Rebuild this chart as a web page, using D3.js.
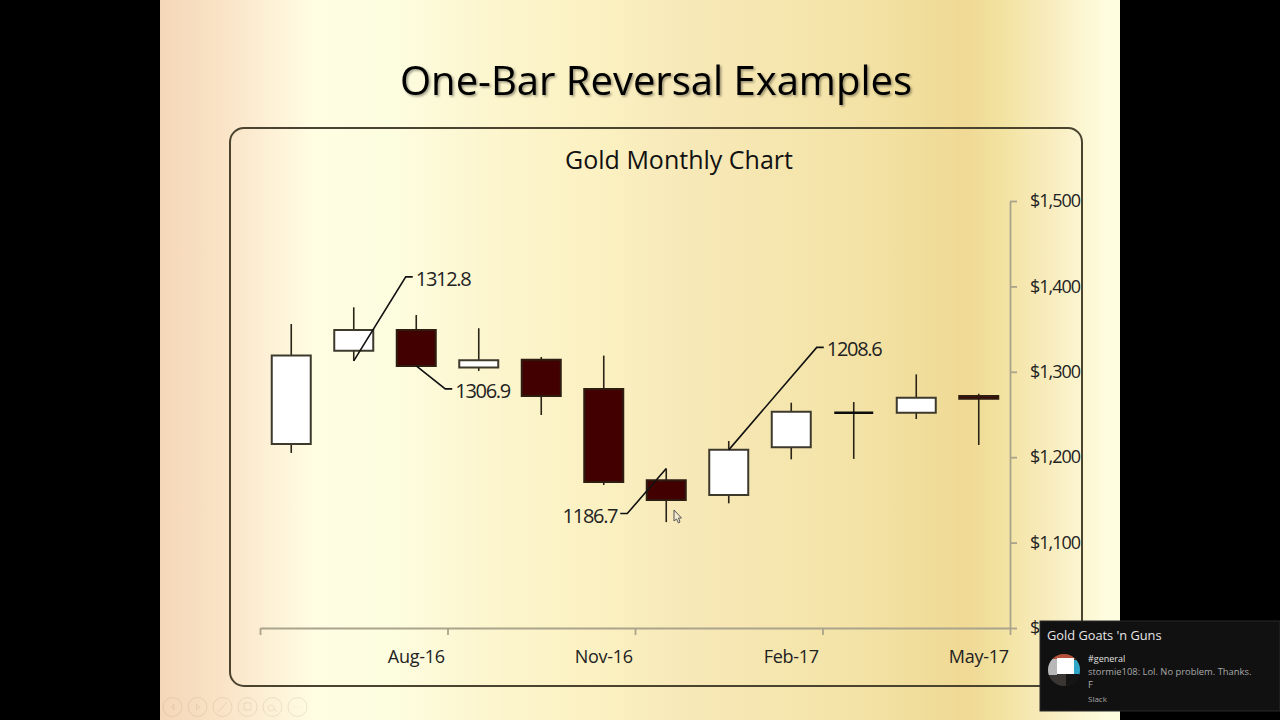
<!DOCTYPE html>
<html>
<head>
<meta charset="utf-8">
<script src="https://cdn.jsdelivr.net/npm/d3@7"></script>
<style>
html,body{margin:0;padding:0;background:#000;overflow:hidden}
svg{display:block}
text{font-family:"Open Sans","Noto Sans",sans-serif}
</style>
</head>
<body>
<svg id="slide" width="1280" height="720"></svg>
<script>
// Monthly gold candles, Jun-16 through May-17
const months = ["Jun-16","Jul-16","Aug-16","Sep-16","Oct-16","Nov-16","Dec-16","Jan-17","Feb-17","Mar-17","Apr-17","May-17"];
const opens  = [1215.5,1324.7,1349.0,1305.0,1314.0,1279.9,1173.0,1155.7,1211.6,1252.0,1252.0,1271.7];
const closes = [1319.0,1349.0,1306.9,1313.4,1271.7,1171.0,1149.9,1208.6,1253.3,1252.0,1269.7,1268.5];
const highs  = [1356.0,1375.5,1366.5,1351.0,1317.3,1319.0,1186.7,1219.0,1263.8,1264.6,1297.0,1274.3];
const lows   = [1205.0,1312.8,1306.9,1301.0,1249.4,1167.4,1124.0,1146.0,1197.5,1198.0,1244.7,1214.3];
const axisTicks = [1000,1100,1200,1300,1400,1500];
const labelledMonths = ["Aug-16","Nov-16","Feb-17","May-17"];
const callouts = [
  {month:"Jul-16", value:1312.8, dx:52, dy:-84, side:1},
  {month:"Aug-16", value:1306.9, dx:29, dy:23, side:1},
  {month:"Dec-16", value:1186.7, dx:-39, dy:45, side:-1},
  {month:"Jan-17", value:1208.6, dx:88, dy:-102.5, side:1}
];
const gradientStops = [[0,"#f5d7b8"],[0.04,"#f7dec0"],[0.08,"#fbe7cb"],[0.12,"#fdf2d8"],[0.16,"#fffde2"],[0.24,"#fdfde0"],[0.35,"#fcf5cd"],[0.47,"#fbf0c0"],[0.55,"#f7e8b8"],[0.66,"#f5e6ae"],[0.74,"#f3e2a4"],[0.84,"#efd994"],[0.875,"#f2e2a0"],[0.93,"#f9edc0"],[0.985,"#fefddf"],[1,"#fffde0"]];

const svg = d3.select("#slide");
const defs = svg.append("defs");

const grad = defs.append("linearGradient").attr("id","slideFill");
grad.selectAll("stop").data(gradientStops).join("stop")
  .attr("offset",d=>d[0]).attr("stop-color",d=>d[1]);

const shadow = defs.append("filter").attr("id","titleShadow")
  .attr("x","-5%").attr("y","-20%").attr("width","110%").attr("height","150%");
shadow.append("feDropShadow").attr("dx",1.5).attr("dy",1.5).attr("stdDeviation",1.2)
  .attr("flood-color","#000").attr("flood-opacity",0.4);

const avatarClip = defs.append("clipPath").attr("id","avatarClip");
avatarClip.append("circle").attr("cx",1064).attr("cy",670).attr("r",16);

// Slide background and frame
svg.append("rect").attr("x",160).attr("y",0).attr("width",960).attr("height",720).attr("fill","url(#slideFill)");
svg.append("rect").attr("x",230).attr("y",128).attr("width",852).attr("height",558).attr("rx",14)
  .attr("fill","none").attr("stroke","#4a4330").attr("stroke-width",2);

svg.append("text").attr("x",656).attr("y",95).attr("text-anchor","middle")
  .attr("font-size",40).attr("fill","#000").attr("filter","url(#titleShadow)")
  .text("One-Bar Reversal Examples");
svg.append("text").attr("x",679).attr("y",169).attr("text-anchor","middle")
  .attr("font-size",25).attr("fill","#111").text("Gold Monthly Chart");

// Scales
const x = d3.scaleBand().domain(months).range([260,1010]);
const edge = d3.scaleLinear().domain([0,12]).range([260,1010]);
const y = d3.scaleLinear().domain([1000,1500]).range([628,201]);
const cx = m => x(m)+x.bandwidth()/2;

// Axes
const axisStyle = (spacing) => g => {
  g.selectAll(".domain,.tick line").attr("stroke","#aaa48c").attr("stroke-width",1.8);
  g.selectAll("text").attr("fill","#222").attr("font-size",18)
    .attr("letter-spacing",spacing)
    .attr("font-family",'"Open Sans","Noto Sans",sans-serif');
};
svg.append("g").attr("transform","translate(0,628)")
  .call(d3.axisBottom(edge).tickValues([0,3,6,9,12]).tickFormat("").tickSize(7).tickSizeOuter(0))
  .call(axisStyle(0));
svg.append("g").attr("transform","translate(0,628)")
  .call(d3.axisBottom(x).tickValues(labelledMonths).tickSize(0).tickPadding(17))
  .call(axisStyle(-0.3)).call(g=>g.select(".domain").remove())
  .call(g=>g.selectAll("text").attr("dy","1.0em"));
svg.append("g").attr("transform","translate(1010,0)")
  .call(d3.axisRight(y).tickValues(axisTicks).tickSize(7).tickSizeOuter(0).tickPadding(13)
    .tickFormat(d=>"$"+d3.format(",")(d)))
  .call(axisStyle(-1));

// Candles: bodies are paths so a doji with open equal to close still strokes
const candles = months.map((m,i)=>({m,o:opens[i],c:closes[i],h:highs[i],l:lows[i]}));
const bodyW = 39;
const isDoji = d => Math.abs(d.o-d.c) < 1;
svg.append("g").selectAll("line").data(candles).join("line")
  .attr("x1",d=>cx(d.m)).attr("x2",d=>cx(d.m))
  .attr("y1",d=>y(d.h)).attr("y2",d=>y(d.l))
  .attr("stroke","#2a2416").attr("stroke-width",1.6);
svg.append("g").selectAll("path").data(candles).join("path")
  .attr("d",d=>{
    const l=cx(d.m)-bodyW/2, r=l+bodyW, t=y(Math.max(d.o,d.c)), b=y(Math.min(d.o,d.c));
    return d3.line()([[l,t],[r,t],[r,b],[l,b]])+"Z";
  })
  .attr("fill",d=>d.c>=d.o?"#ffffff":"#420000")
  .attr("stroke",d=>isDoji(d)?"#0c0c0c":(d.c<d.o?"#2e1c10":"#3d3a2c"))
  .attr("stroke-width",d=>isDoji(d)?2.4:2);

// Value callouts
const callG = svg.append("g");
callouts.forEach(c=>{
  const px=cx(c.month), py=y(c.value);
  callG.append("path")
    .attr("d",d3.line()([[px,py],[px+c.dx,py+c.dy],[px+c.dx+c.side*7,py+c.dy]]))
    .attr("fill","none").attr("stroke","#111").attr("stroke-width",1.6);
  callG.append("text")
    .attr("x",px+c.dx+c.side*10).attr("y",py+c.dy+9)
    .attr("text-anchor",c.side>0?"start":"end")
    .attr("letter-spacing",-1.3)
    .attr("font-size",20).attr("fill","#222").text(c.value.toFixed(1));
});

// Pointer
svg.append("path").attr("d",d3.line()([[674,510],[674,521],[676.5,519],[678.5,523],[680,522],[678.5,518],[681.5,518]])+"Z")
  .attr("fill","#f4ecd0").attr("stroke","#555").attr("stroke-width",1);

// Slide-show controls
const controlCount = d3.range(6);
const controls = svg.append("g").attr("stroke","#6b5a3c").attr("stroke-opacity",0.13).attr("fill","none");
controls.selectAll("circle").data(controlCount).join("circle")
  .attr("cx",i=>172.5+i*25).attr("cy",707).attr("r",9.5);
const glyphs = [
  "M174,704.5L171,707L174,709.5Z","M196.5,704.5L199.5,707L196.5,709.5Z","M218,712L227,702",
  "M244,703h7v7h-7Z","M271,705a3,3 0 1 0 .1,0M274,709l3,3","M294,707h.8M298,707h.8M302,707h.8"
];
controls.selectAll("path").data(glyphs).join("path").attr("d",d=>d);

// Desktop notification
const note = svg.append("g");
note.append("rect").attr("x",1040).attr("y",621).attr("width",240).attr("height",90).attr("fill","#111111").attr("stroke","#2a2a2a");
note.append("text").attr("x",1047).attr("y",640).attr("font-size",12.8).attr("fill","#e6e6e6").text("Gold Goats 'n Guns");
note.append("text").attr("x",1088).attr("y",662).attr("font-size",9).attr("fill","#e0e0e0").text("#general");
note.append("text").attr("x",1088).attr("y",675).attr("font-size",9.4).attr("fill","#a8a8a8").text("stormie108: Lol. No problem. Thanks.");
note.append("text").attr("x",1088).attr("y",688).attr("font-size",9.5).attr("fill","#a8a8a8").text("F");
note.append("text").attr("x",1088).attr("y",702).attr("font-size",8).attr("fill","#a8a8a8").text("Slack");
const av = note.append("g").attr("clip-path","url(#avatarClip)");
av.append("rect").attr("x",1048).attr("y",654).attr("width",32).attr("height",32).attr("fill","#3a3634");
av.append("rect").attr("x",1048).attr("y",654).attr("width",32).attr("height",5).attr("fill","#b5503a");
av.append("rect").attr("x",1048).attr("y",659).attr("width",9).attr("height",16).attr("fill","#b8b8b8");
av.append("rect").attr("x",1057).attr("y",658).attr("width",17).attr("height",16).attr("fill","#ffffff");
av.append("rect").attr("x",1074).attr("y",660).attr("width",6).attr("height",15).attr("fill","#2fa6c8");
av.append("rect").attr("x",1066).attr("y",674).attr("width",14).attr("height",12).attr("fill","#151515");
</script>
</body>
</html>
